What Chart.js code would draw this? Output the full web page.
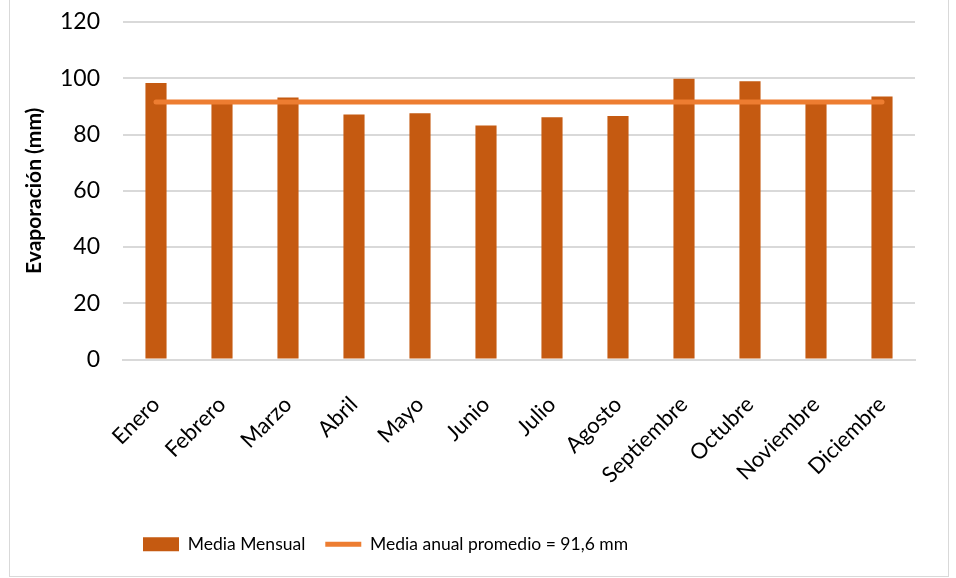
<!DOCTYPE html>
<html>
<head>
<meta charset="utf-8">
<script src="https://cdn.jsdelivr.net/npm/chart.js@4"></script>
<style>
  body { margin: 0; background: #fff; }
  #wrap { position: absolute; left: 9px; top: -1px; width: 938px; height: 576px; border: 1px solid #d9d9d9; }
</style>
</head>
<body>
<div id="wrap"><canvas id="chart"></canvas></div>
<script>
const meses = ['Enero', 'Febrero', 'Marzo', 'Abril', 'Mayo', 'Junio', 'Julio', 'Agosto',
  'Septiembre', 'Octubre', 'Noviembre', 'Diciembre'];
const mediaMensual = [98.3, 91.8, 93.2, 87.1, 87.6, 83.2, 86.1, 86.6, 99.8, 98.9, 91.5, 93.5];
const mediaAnual = 91.6;
const lineaAnual = meses.map(() => mediaAnual);

const fuente = 'Lato, "Liberation Sans", sans-serif';
const gris = '#d9d9d9';

new Chart(document.getElementById('chart'), {
  data: {
    labels: meses,
    datasets: [
      {
        type: 'bar',
        label: 'Media Mensual',
        data: mediaMensual,
        backgroundColor: '#c55a11',
        borderWidth: 0,
        barPercentage: 0.32,
        categoryPercentage: 1,
        pointStyle: 'rect',
        order: 1
      },
      {
        type: 'line',
        label: 'Media anual promedio = 91,6 mm',
        data: lineaAnual,
        borderColor: '#ed7d31',
        backgroundColor: '#ed7d31',
        borderWidth: 5,
        borderCapStyle: 'round',
        pointRadius: 0,
        pointStyle: 'line',
        order: 0
      }
    ]
  },
  options: {
    responsive: true,
    maintainAspectRatio: false,
    animation: false,
    layout: { padding: { top: 22, right: 33, left: 12, bottom: 13 } },
    plugins: {
      tooltip: { enabled: false },
      legend: {
        position: 'bottom',
        align: 'start',
        fullSize: false,
        labels: {
          usePointStyle: true,
          pointStyleWidth: 36,
          boxHeight: 14,
          padding: 20,
          color: '#000',
          font: { family: fuente, size: 17.5 },
          sort: (a, b) => a.datasetIndex - b.datasetIndex
        }
      }
    },
    scales: {
      x: {
        grid: { display: false, drawTicks: false },
        border: { color: gris, width: 2 },
        ticks: {
          color: '#000',
          font: { family: fuente, size: 22 },
          maxRotation: 45,
          minRotation: 45,
          autoSkip: false,
          padding: 32
        },
        afterFit: (scale) => { scale.height = 156; }
      },
      y: {
        min: 0,
        max: 120,
        ticks: {
          stepSize: 20,
          color: '#000',
          font: { family: fuente, size: 23 },
          padding: 0
        },
        grid: { color: gris, lineWidth: 2, drawTicks: true, tickLength: 23, tickColor: 'rgba(0,0,0,0)' },
        border: { display: false },
        title: {
          display: true,
          text: 'Evaporación (mm)',
          color: '#000',
          font: { family: fuente, size: 21, weight: 'bold' },
          padding: { top: 0, bottom: 0 }
        },
        afterFit: (scale) => { scale.width = 101; }
      }
    }
  }
});
</script>
</body>
</html>
